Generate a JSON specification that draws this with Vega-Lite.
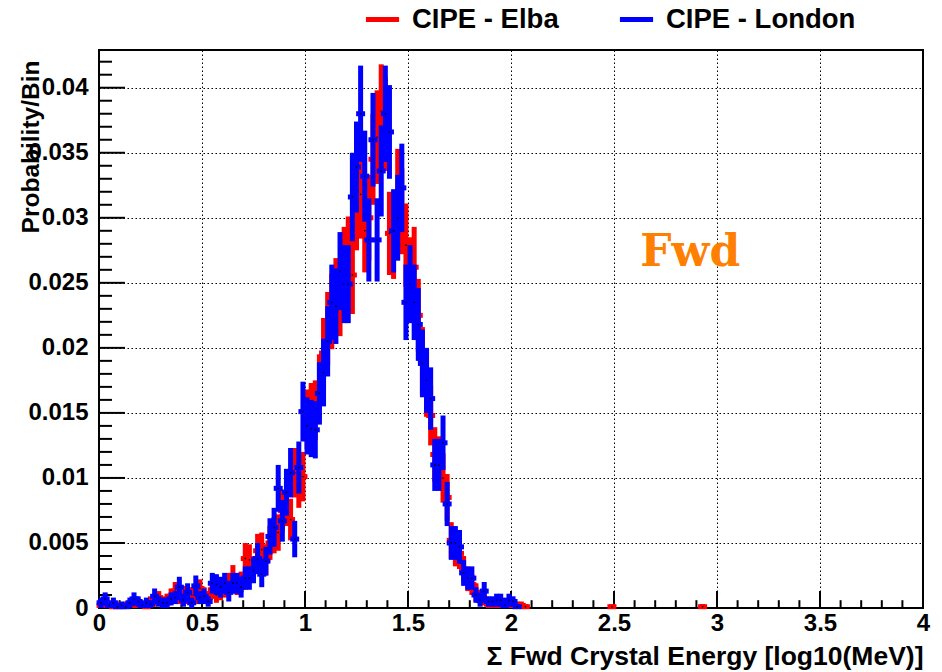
{
 "$schema": "https://vega.github.io/schema/vega-lite/v6.json",
 "width": 824, "height": 558,
 "autosize": {"type": "none"},
 "padding": {"left": 99, "top": 50, "right": 19, "bottom": 64},
 "background": "white",
 "config": {"view": {"stroke": "black", "strokeWidth": 2}, "font": "Liberation Sans"},
 "datasets": {
  "label": [{"x": 2.87, "y": 0.0263, "t": "Fwd"}],
  "xmaj": [{"t":0.5},{"t":1},{"t":1.5},{"t":2},{"t":2.5},{"t":3},{"t":3.5}],
  "xmin": [{"t":0.1},{"t":0.2},{"t":0.3},{"t":0.4},{"t":0.6},{"t":0.7},{"t":0.8},{"t":0.9},{"t":1.1},{"t":1.2},{"t":1.3},{"t":1.4},
           {"t":1.6},{"t":1.7},{"t":1.8},{"t":1.9},{"t":2.1},{"t":2.2},{"t":2.3},{"t":2.4},{"t":2.6},{"t":2.7},{"t":2.8},{"t":2.9},
           {"t":3.1},{"t":3.2},{"t":3.3},{"t":3.4},{"t":3.6},{"t":3.7},{"t":3.8},{"t":3.9}],
  "ymaj": [{"t":0.005},{"t":0.01},{"t":0.015},{"t":0.02},{"t":0.025},{"t":0.03},{"t":0.035},{"t":0.04}],
  "ymin": [{"t":0.001},{"t":0.002},{"t":0.003},{"t":0.004},{"t":0.006},{"t":0.007},{"t":0.008},{"t":0.009},{"t":0.011},{"t":0.012},
           {"t":0.013},{"t":0.014},{"t":0.016},{"t":0.017},{"t":0.018},{"t":0.019},{"t":0.021},{"t":0.022},{"t":0.023},{"t":0.024},
           {"t":0.026},{"t":0.027},{"t":0.028},{"t":0.029},{"t":0.031},{"t":0.032},{"t":0.033},{"t":0.034},{"t":0.036},{"t":0.037},
           {"t":0.038},{"t":0.039},{"t":0.041},{"t":0.042}],
  "elba": [
   {"x":0.01,"v":0.0002,"e":0.0003},{"x":0.03,"v":0.0003,"e":0.0003},{"x":0.05,"v":0.0002,"e":0.0003},{"x":0.07,"v":0.0001,"e":0.0002},
   {"x":0.09,"v":0.0002,"e":0.0003},{"x":0.11,"v":0.0001,"e":0.0002},{"x":0.13,"v":0.0002,"e":0.0003},{"x":0.15,"v":0.0003,"e":0.0003},
   {"x":0.17,"v":0.0002,"e":0.0003},{"x":0.19,"v":0.0004,"e":0.0004},{"x":0.21,"v":0.0002,"e":0.0003},{"x":0.23,"v":0.0001,"e":0.0002},
   {"x":0.25,"v":0.0005,"e":0.0004},{"x":0.27,"v":0.0006,"e":0.0005},{"x":0.29,"v":0.0008,"e":0.0005},{"x":0.31,"v":0.0005,"e":0.0004},
   {"x":0.33,"v":0.0006,"e":0.0005},{"x":0.35,"v":0.0009,"e":0.0006},{"x":0.37,"v":0.0013,"e":0.0007},{"x":0.39,"v":0.0009,"e":0.0006},
   {"x":0.41,"v":0.0011,"e":0.0006},{"x":0.43,"v":0.0008,"e":0.0005},{"x":0.45,"v":0.001,"e":0.0006},{"x":0.47,"v":0.0009,"e":0.0006},
   {"x":0.49,"v":0.0015,"e":0.0007},{"x":0.51,"v":0.001,"e":0.0006},{"x":0.53,"v":0.0008,"e":0.0005},{"x":0.55,"v":0.0014,"e":0.0007},
   {"x":0.57,"v":0.001,"e":0.0006},{"x":0.59,"v":0.0013,"e":0.0007},{"x":0.61,"v":0.0015,"e":0.0007},{"x":0.63,"v":0.0019,"e":0.0008},
   {"x":0.65,"v":0.0024,"e":0.0009},{"x":0.67,"v":0.0018,"e":0.0008},{"x":0.69,"v":0.002,"e":0.0008},{"x":0.71,"v":0.0038,"e":0.0012},
   {"x":0.73,"v":0.0037,"e":0.0012},{"x":0.75,"v":0.003,"e":0.001},{"x":0.77,"v":0.0044,"e":0.0013},{"x":0.79,"v":0.0045,"e":0.0013},
   {"x":0.81,"v":0.0037,"e":0.0012},{"x":0.83,"v":0.005,"e":0.0013},{"x":0.85,"v":0.0056,"e":0.0014},{"x":0.87,"v":0.0058,"e":0.0014},
   {"x":0.89,"v":0.0075,"e":0.0016},{"x":0.91,"v":0.008,"e":0.0017},{"x":0.93,"v":0.0068,"e":0.0016},{"x":0.95,"v":0.0104,"e":0.0019},
   {"x":0.97,"v":0.0095,"e":0.0018},{"x":0.99,"v":0.0101,"e":0.0019},{"x":1.01,"v":0.0145,"e":0.0023},{"x":1.03,"v":0.015,"e":0.0023},
   {"x":1.05,"v":0.0152,"e":0.0023},{"x":1.07,"v":0.017,"e":0.0025},{"x":1.09,"v":0.0196,"e":0.0027},{"x":1.11,"v":0.0215,"e":0.0028},
   {"x":1.13,"v":0.0228,"e":0.0029},{"x":1.15,"v":0.024,"e":0.0029},{"x":1.17,"v":0.0238,"e":0.0029},{"x":1.19,"v":0.0262,"e":0.0031},
   {"x":1.21,"v":0.027,"e":0.0031},{"x":1.23,"v":0.0256,"e":0.003},{"x":1.25,"v":0.0308,"e":0.0033},{"x":1.27,"v":0.0318,"e":0.0034},
   {"x":1.29,"v":0.029,"e":0.0032},{"x":1.31,"v":0.03,"e":0.0033},{"x":1.33,"v":0.0345,"e":0.0035},{"x":1.35,"v":0.0362,"e":0.0036},
   {"x":1.37,"v":0.0382,"e":0.0036},{"x":1.39,"v":0.0372,"e":0.0036},{"x":1.41,"v":0.0288,"e":0.0032},{"x":1.43,"v":0.0285,"e":0.0032},
   {"x":1.45,"v":0.0319,"e":0.0034},{"x":1.47,"v":0.0305,"e":0.0033},{"x":1.49,"v":0.0279,"e":0.0032},{"x":1.51,"v":0.0255,"e":0.003},
   {"x":1.53,"v":0.0262,"e":0.0031},{"x":1.55,"v":0.0225,"e":0.0028},{"x":1.57,"v":0.019,"e":0.0026},{"x":1.59,"v":0.0172,"e":0.0025},
   {"x":1.61,"v":0.0148,"e":0.0023},{"x":1.63,"v":0.0118,"e":0.0021},{"x":1.65,"v":0.0112,"e":0.002},{"x":1.67,"v":0.01,"e":0.0019},
   {"x":1.69,"v":0.0085,"e":0.0018},{"x":1.71,"v":0.0052,"e":0.0014},{"x":1.73,"v":0.0045,"e":0.0013},{"x":1.75,"v":0.0042,"e":0.0012},
   {"x":1.77,"v":0.003,"e":0.001},{"x":1.79,"v":0.0022,"e":0.0009},{"x":1.81,"v":0.0018,"e":0.0008},{"x":1.83,"v":0.0012,"e":0.0007},
   {"x":1.85,"v":0.0008,"e":0.0005},{"x":1.87,"v":0.0007,"e":0.0005},{"x":1.89,"v":0.0003,"e":0.0003},{"x":1.91,"v":0.0004,"e":0.0004},
   {"x":1.93,"v":0.0003,"e":0.0003},{"x":1.95,"v":0.0004,"e":0.0004},{"x":1.97,"v":0.0003,"e":0.0003},{"x":1.99,"v":0.0002,"e":0.0003},
   {"x":2.01,"v":0.0003,"e":0.0003},{"x":2.03,"v":0.0002,"e":0.0003},{"x":2.05,"v":0.0002,"e":0.0003},{"x":2.07,"v":0.0001,"e":0.0002},
   {"x":2.49,"v":0.0001,"e":0.0002},{"x":2.93,"v":0.0001,"e":0.0002}
  ],
  "london": [
   {"x":0.01,"v":0.0004,"e":0.0004},{"x":0.03,"v":0.0007,"e":0.0005},{"x":0.05,"v":0.0002,"e":0.0003},{"x":0.07,"v":0.0004,"e":0.0004},
   {"x":0.09,"v":0.0001,"e":0.0002},{"x":0.11,"v":0.0002,"e":0.0003},{"x":0.13,"v":0.0001,"e":0.0002},{"x":0.15,"v":0.0004,"e":0.0004},
   {"x":0.17,"v":0.0007,"e":0.0005},{"x":0.19,"v":0.0005,"e":0.0004},{"x":0.21,"v":0.0002,"e":0.0003},{"x":0.23,"v":0.0004,"e":0.0004},
   {"x":0.25,"v":0.0003,"e":0.0003},{"x":0.27,"v":0.0009,"e":0.0006},{"x":0.29,"v":0.0005,"e":0.0004},{"x":0.31,"v":0.0004,"e":0.0004},
   {"x":0.33,"v":0.0004,"e":0.0004},{"x":0.35,"v":0.0007,"e":0.0005},{"x":0.37,"v":0.0008,"e":0.0005},{"x":0.39,"v":0.0016,"e":0.0008},
   {"x":0.41,"v":0.0006,"e":0.0005},{"x":0.43,"v":0.0012,"e":0.0007},{"x":0.45,"v":0.0004,"e":0.0004},{"x":0.47,"v":0.0017,"e":0.0008},
   {"x":0.49,"v":0.0008,"e":0.0005},{"x":0.51,"v":0.0009,"e":0.0006},{"x":0.53,"v":0.0005,"e":0.0004},{"x":0.55,"v":0.0019,"e":0.0008},
   {"x":0.57,"v":0.0018,"e":0.0008},{"x":0.59,"v":0.0016,"e":0.0008},{"x":0.61,"v":0.0019,"e":0.0008},{"x":0.63,"v":0.0012,"e":0.0007},
   {"x":0.65,"v":0.0019,"e":0.0008},{"x":0.67,"v":0.0019,"e":0.0008},{"x":0.69,"v":0.0016,"e":0.0008},{"x":0.71,"v":0.0023,"e":0.0009},
   {"x":0.73,"v":0.0023,"e":0.0009},{"x":0.75,"v":0.0029,"e":0.001},{"x":0.77,"v":0.0038,"e":0.0012},{"x":0.79,"v":0.0026,"e":0.001},
   {"x":0.81,"v":0.0036,"e":0.0011},{"x":0.83,"v":0.0055,"e":0.0014},{"x":0.85,"v":0.0062,"e":0.0015},{"x":0.87,"v":0.0092,"e":0.0018},
   {"x":0.89,"v":0.0067,"e":0.0016},{"x":0.91,"v":0.0089,"e":0.0018},{"x":0.93,"v":0.0104,"e":0.0019},{"x":0.95,"v":0.0053,"e":0.0014},
   {"x":0.97,"v":0.0108,"e":0.002},{"x":0.99,"v":0.0151,"e":0.0023},{"x":1.01,"v":0.014,"e":0.0022},{"x":1.03,"v":0.0138,"e":0.0022},
   {"x":1.05,"v":0.0137,"e":0.0022},{"x":1.07,"v":0.0165,"e":0.0024},{"x":1.09,"v":0.0181,"e":0.0026},{"x":1.11,"v":0.0205,"e":0.0027},
   {"x":1.13,"v":0.0235,"e":0.0029},{"x":1.15,"v":0.0232,"e":0.0029},{"x":1.17,"v":0.0259,"e":0.003},{"x":1.19,"v":0.0249,"e":0.003},
   {"x":1.21,"v":0.0249,"e":0.003},{"x":1.23,"v":0.0316,"e":0.0034},{"x":1.25,"v":0.0339,"e":0.0035},{"x":1.27,"v":0.038,"e":0.0037},
   {"x":1.29,"v":0.0332,"e":0.0035},{"x":1.31,"v":0.0283,"e":0.0032},{"x":1.33,"v":0.036,"e":0.0036},{"x":1.35,"v":0.0283,"e":0.0032},
   {"x":1.37,"v":0.0336,"e":0.0035},{"x":1.39,"v":0.038,"e":0.0037},{"x":1.41,"v":0.0366,"e":0.0036},{"x":1.43,"v":0.029,"e":0.0032},
   {"x":1.45,"v":0.03,"e":0.0033},{"x":1.47,"v":0.0323,"e":0.0034},{"x":1.49,"v":0.0235,"e":0.0029},{"x":1.51,"v":0.0249,"e":0.003},
   {"x":1.53,"v":0.0235,"e":0.0029},{"x":1.55,"v":0.0218,"e":0.0028},{"x":1.57,"v":0.0188,"e":0.0026},{"x":1.59,"v":0.0175,"e":0.0025},
   {"x":1.61,"v":0.0161,"e":0.0024},{"x":1.63,"v":0.011,"e":0.002},{"x":1.65,"v":0.011,"e":0.002},{"x":1.67,"v":0.0127,"e":0.0021},
   {"x":1.69,"v":0.008,"e":0.0017},{"x":1.71,"v":0.005,"e":0.0013},{"x":1.73,"v":0.005,"e":0.0013},{"x":1.75,"v":0.0047,"e":0.0013},
   {"x":1.77,"v":0.0027,"e":0.001},{"x":1.79,"v":0.0023,"e":0.0009},{"x":1.81,"v":0.0023,"e":0.0009},{"x":1.83,"v":0.001,"e":0.0006},
   {"x":1.85,"v":0.0006,"e":0.0005},{"x":1.87,"v":0.0013,"e":0.0007},{"x":1.89,"v":0.0005,"e":0.0004},{"x":1.91,"v":0.0005,"e":0.0004},
   {"x":1.93,"v":0.0006,"e":0.0005},{"x":1.95,"v":0.0006,"e":0.0005},{"x":1.97,"v":0.0002,"e":0.0003},{"x":1.99,"v":0.0006,"e":0.0005},
   {"x":2.01,"v":0.0005,"e":0.0004},{"x":2.03,"v":0.0001,"e":0.0002}
  ]
 },
 "resolve": {"axis": {"x": "independent", "y": "independent"}},
 "layer": [
  {
   "data": {"name": "ymaj"},
   "mark": {"type": "rule", "color": "black", "strokeWidth": 2},
   "encoding": {
    "x": {"datum": 0, "type": "quantitative",
     "scale": {"domain": [0, 4], "nice": false, "zero": false},
     "axis": {"orient": "bottom", "values": [0, 0.5, 1, 1.5, 2, 2.5, 3, 3.5, 4], "format": "~g", "domain": false, "ticks": false,
      "grid": true, "gridColor": "black", "gridDash": [1.5, 2.5], "gridWidth": 1, "gridOpacity": 1,
      "labelFont": "Liberation Sans", "labelFontWeight": "bold", "labelFontSize": 24, "labelColor": "black", "labelPadding": 3,
      "labelFlush": false, "labelOverlap": false,
      "title": "Σ Fwd Crystal Energy [log10(MeV)]", "titleFont": "Liberation Sans", "titleFontWeight": "bold", "titleFontSize": 26.5,
      "titleColor": "black", "titleAnchor": "end", "titleAlign": "right", "titleX": 824, "titleY": 56, "titleBaseline": "alphabetic"}},
    "x2": {"datum": 0.126},
    "y": {"field": "t", "type": "quantitative",
     "scale": {"domain": [0, 0.0429], "nice": false, "zero": true, "clamp": true},
     "axis": {"orient": "left", "values": [0, 0.005, 0.01, 0.015, 0.02, 0.025, 0.03, 0.035, 0.04], "format": "~g", "domain": false, "ticks": false,
      "grid": true, "gridColor": "black", "gridDash": [1.5, 2.5], "gridWidth": 1, "gridOpacity": 1,
      "labelFont": "Liberation Sans", "labelFontWeight": "bold", "labelFontSize": 24, "labelColor": "black", "labelPadding": 11,
      "labelFlush": false, "labelOverlap": false,
      "title": "Probability/Bin", "titleFont": "Liberation Sans", "titleFontWeight": "bold", "titleFontSize": 24.5, "titleColor": "black",
      "titleAngle": 270, "titleAlign": "right", "titleAnchor": "end", "titleX": -61, "titleY": 10, "titleBaseline": "alphabetic"}}
   }
  },
  {
   "data": {"name": "ymin"},
   "mark": {"type": "rule", "color": "black", "strokeWidth": 2},
   "encoding": {
    "x": {"datum": 0, "type": "quantitative", "axis": null},
    "x2": {"datum": 0.063},
    "y": {"field": "t", "type": "quantitative", "axis": null}
   }
  },
  {
   "data": {"name": "xmaj"},
   "mark": {"type": "rule", "color": "black", "strokeWidth": 2},
   "encoding": {
    "x": {"field": "t", "type": "quantitative", "axis": null},
    "y": {"datum": 0, "type": "quantitative", "axis": null},
    "y2": {"datum": 0.0013}
   }
  },
  {
   "data": {"name": "xmin"},
   "mark": {"type": "rule", "color": "black", "strokeWidth": 2},
   "encoding": {
    "x": {"field": "t", "type": "quantitative", "axis": null},
    "y": {"datum": 0, "type": "quantitative", "axis": null},
    "y2": {"datum": 0.0006}
   }
  },
  {
   "data": {"name": "elba"},
   "mark": {"type": "errorbar", "thickness": 5},
   "encoding": {
    "x": {"field": "x", "type": "quantitative", "axis": null},
    "y": {"field": "v", "type": "quantitative", "axis": null},
    "yError": {"field": "e"},
    "color": {"datum": "CIPE - Elba", "type": "nominal",
     "scale": {"domain": ["CIPE - Elba", "CIPE - London"], "range": ["#ff0000", "#0000ff"]},
     "legend": {"orient": "none", "legendX": 264, "legendY": -50, "direction": "horizontal", "title": null,
      "symbolType": "stroke", "symbolStrokeWidth": 5, "symbolSize": 1100, "symbolOpacity": 1,
      "labelFont": "Liberation Sans", "labelFontSize": 27.5, "labelFontWeight": "bold", "labelColor": "black", "labelOffset": 10,
      "labelLimit": 0, "columnPadding": 50}}
   }
  },
  {
   "data": {"name": "elba"},
   "mark": {"type": "tick", "orient": "horizontal", "size": 9, "thickness": 5, "opacity": 1},
   "encoding": {
    "x": {"field": "x", "type": "quantitative", "axis": null},
    "y": {"field": "v", "type": "quantitative", "axis": null},
    "color": {"datum": "CIPE - Elba", "type": "nominal"}
   }
  },
  {
   "data": {"name": "elba"},
   "mark": {"type": "square", "size": 2, "color": "black", "opacity": 1},
   "encoding": {
    "x": {"field": "x", "type": "quantitative", "axis": null},
    "y": {"field": "v", "type": "quantitative", "axis": null}
   }
  },
  {
   "data": {"name": "london"},
   "mark": {"type": "errorbar", "thickness": 5},
   "encoding": {
    "x": {"field": "x", "type": "quantitative", "axis": null},
    "y": {"field": "v", "type": "quantitative", "axis": null},
    "yError": {"field": "e"},
    "color": {"datum": "CIPE - London", "type": "nominal"}
   }
  },
  {
   "data": {"name": "london"},
   "mark": {"type": "tick", "orient": "horizontal", "size": 9, "thickness": 5, "opacity": 1},
   "encoding": {
    "x": {"field": "x", "type": "quantitative", "axis": null},
    "y": {"field": "v", "type": "quantitative", "axis": null},
    "color": {"datum": "CIPE - London", "type": "nominal"}
   }
  },
  {
   "data": {"name": "london"},
   "mark": {"type": "square", "size": 2, "color": "black", "opacity": 1},
   "encoding": {
    "x": {"field": "x", "type": "quantitative", "axis": null},
    "y": {"field": "v", "type": "quantitative", "axis": null}
   }
  },
  {
   "data": {"name": "label"},
   "mark": {"type": "text", "font": "DejaVu Serif", "fontWeight": "bold", "fontSize": 44, "color": "#ff8000", "align": "center", "baseline": "alphabetic"},
   "encoding": {
    "x": {"field": "x", "type": "quantitative", "axis": null},
    "y": {"field": "y", "type": "quantitative", "axis": null},
    "text": {"field": "t"}
   }
  }
 ]
}
